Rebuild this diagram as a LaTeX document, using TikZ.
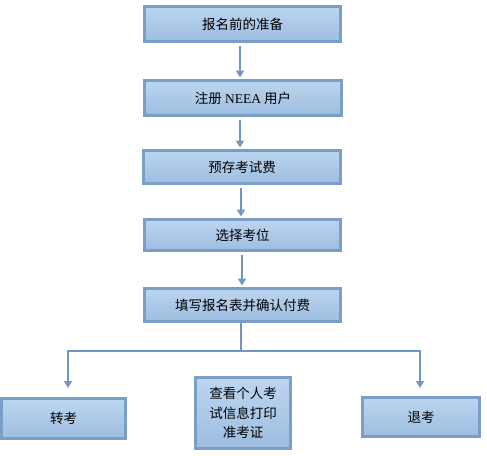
\documentclass[tikz,border=0pt]{standalone}
\usepackage{fontspec}
\setmainfont{Liberation Serif}
\newfontfamily\cjk{Noto Sans CJK SC}
\usetikzlibrary{arrows.meta}
\definecolor{boxtop}{HTML}{BDD6F0}
\definecolor{boxbot}{HTML}{9DBCDF}
\definecolor{boxline}{HTML}{7A9FC6}
\definecolor{arrowc}{HTML}{7097C2}
\tikzset{
  flowbox/.style={draw=boxline, line width=2.6pt, top color=boxtop, bottom color=boxbot,
    inner sep=0pt, align=center, font=\fontsize{13.5}{19.5}\selectfont\cjk},
  conn/.style={draw=arrowc, line width=2pt},
  arr/.style={conn, -{Triangle[width=8pt,length=7pt]}}
}
\begin{document}
\begin{tikzpicture}[x=1pt,y=-1pt]
\useasboundingbox (0,0) rectangle (487,455);
\node[flowbox, minimum width=196.4pt, minimum height=35.4pt] (b1) at (242.5,24) {报名前的准备};
\node[flowbox, minimum width=197.4pt, minimum height=35.4pt] (b2) at (243,98) {注册 {\rmfamily NEEA} 用户};
\node[flowbox, minimum width=197.4pt, minimum height=33.4pt] (b3) at (242,167) {预存考试费};
\node[flowbox, minimum width=196.4pt, minimum height=31.4pt] (b4) at (242.5,235) {选择考位};
\node[flowbox, minimum width=196.4pt, minimum height=33.4pt] (b5) at (242.5,305) {填写报名表并确认付费};
\node[flowbox, minimum width=124.4pt, minimum height=40.4pt] (c1) at (63.5,418.5) {转考};
\node[flowbox, minimum width=95.4pt, minimum height=71.4pt] (c2) at (243,413) {查看个人考\\试信息打印\\准考证};
\node[flowbox, minimum width=117.4pt, minimum height=39.4pt] (c3) at (421,417) {退考};
\draw[arr, shorten <=3pt, shorten >=1.5pt] (b1.south -| 240,0) -- (b2.north -| 240,0);
\draw[arr, shorten <=3pt, shorten >=1.5pt] (b2.south -| 240,0) -- (b3.north -| 240,0);
\draw[arr, shorten <=3pt, shorten >=1.5pt] (b3.south -| 241,0) -- (b4.north -| 241,0);
\draw[arr, shorten <=3pt, shorten >=1.5pt] (b4.south -| 242,0) -- (b5.north -| 242,0);
\coordinate (j) at (240.5,351);
\coordinate (jl) at (68,351);
\coordinate (jr) at (420,351);
\coordinate (tl) at (68,388);
\coordinate (tr) at (420,388);
\draw[conn] (b5.south -| j) -- (j);
\draw[arr] (j) -- (jl) -- (tl);
\draw[arr] (j) -- (jr) -- (tr);
\end{tikzpicture}
\end{document}
